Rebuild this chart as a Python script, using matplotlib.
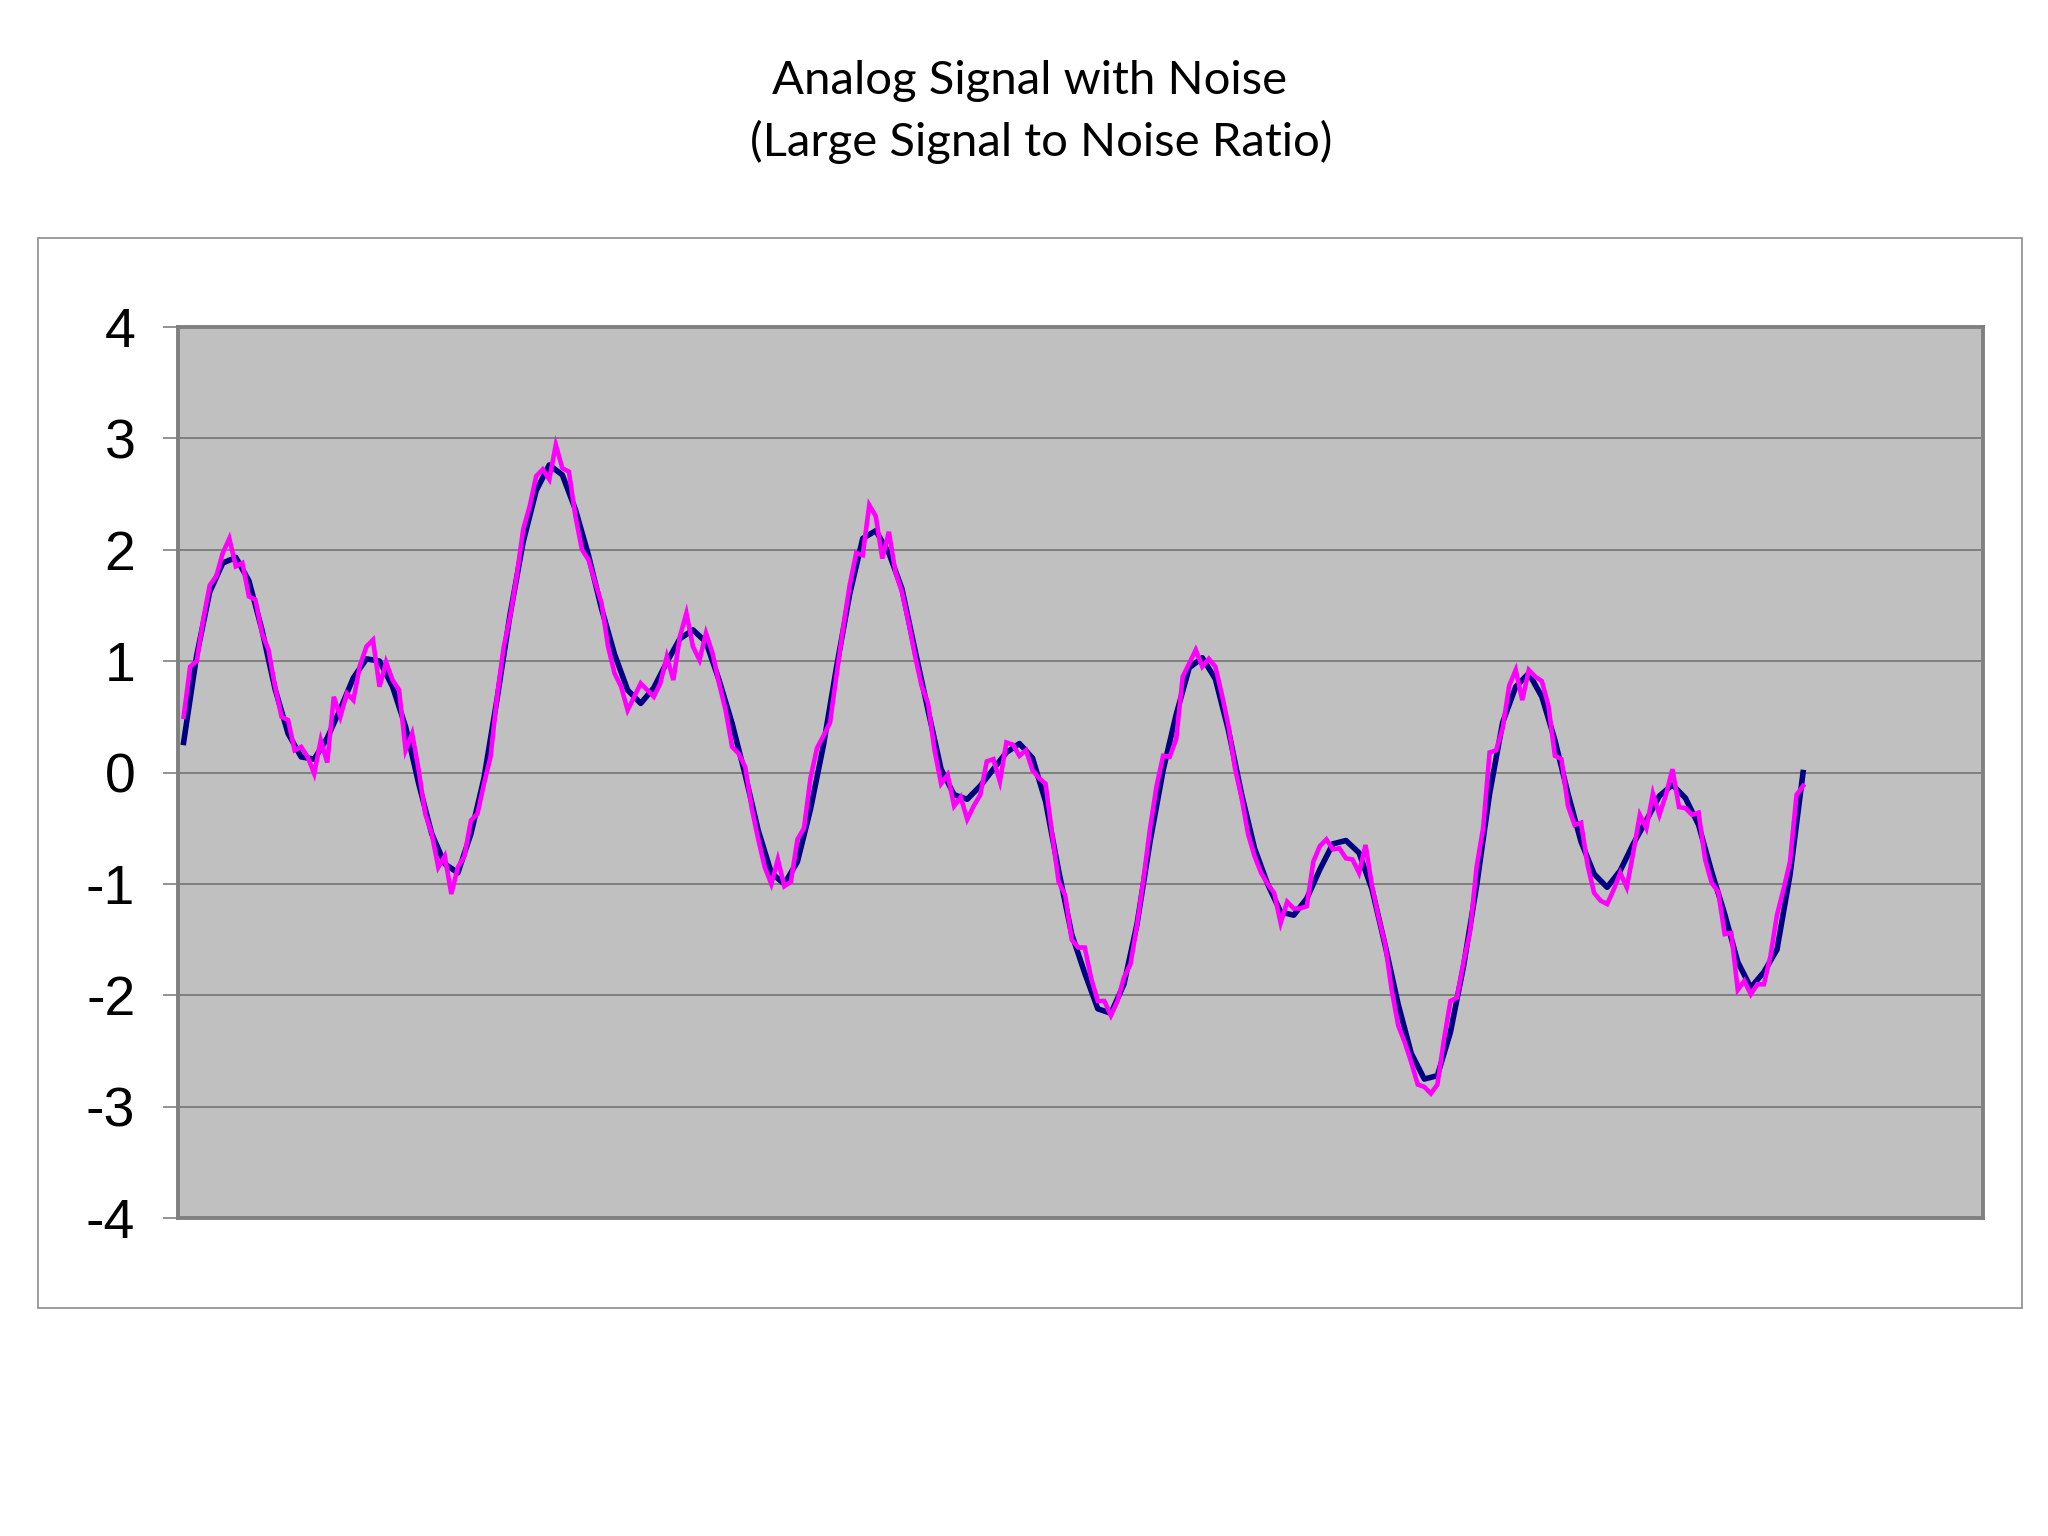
import numpy as np
import matplotlib
matplotlib.use("Agg")
import matplotlib.pyplot as plt
from matplotlib.patches import Rectangle

# --- данные ---
# чистый сигнал, шаг 10 px
signal = [
    0.27, 1.05, 1.62, 1.88, 1.93, 1.72, 1.28, 0.75, 0.35, 0.14,
    0.12, 0.31, 0.57, 0.85, 1.02, 1.00, 0.77, 0.41, -0.10, -0.55,
    -0.82, -0.90, -0.55, -0.05, 0.66, 1.42, 2.07, 2.53, 2.76, 2.67,
    2.36, 1.95, 1.47, 1.06, 0.74, 0.62, 0.76, 0.99, 1.20, 1.28,
    1.17, 0.83, 0.44, -0.02, -0.52, -0.90, -1.00, -0.80, -0.33, 0.25,
    0.95, 1.60, 2.10, 2.17, 1.97, 1.65, 1.10, 0.56, 0.03, -0.20,
    -0.24, -0.12, 0.03, 0.18, 0.26, 0.13, -0.26, -0.88, -1.45, -1.80,
    -2.12, -2.16, -1.90, -1.36, -0.62, 0.02, 0.52, 0.94, 1.03, 0.84,
    0.38, -0.19, -0.68, -1.00, -1.25, -1.28, -1.13, -0.87, -0.64, -0.61,
    -0.72, -1.05, -1.55, -2.08, -2.52, -2.75, -2.72, -2.33, -1.74, -1.02,
    -0.19, 0.45, 0.77, 0.89, 0.68, 0.29, -0.19, -0.62, -0.91, -1.03,
    -0.88, -0.64, -0.43, -0.21, -0.11, -0.23, -0.47, -0.89, -1.27, -1.70,
    -1.93, -1.79, -1.59, -0.92, 0.00,
]

# сигнал с шумом, шаг 5 px
noisy = [
    0.50, 0.95, 1.00, 1.37, 1.68, 1.76, 1.97, 2.10, 1.85, 1.88,
    1.58, 1.55, 1.25, 1.10, 0.77, 0.50, 0.47, 0.20, 0.23, 0.14,
    -0.01, 0.29, 0.09, 0.68, 0.50, 0.71, 0.65, 0.96, 1.13, 1.19,
    0.77, 0.99, 0.83, 0.74, 0.20, 0.35, 0.02, -0.37, -0.55, -0.85,
    -0.75, -1.09, -0.85, -0.75, -0.43, -0.37, -0.10, 0.14, 0.68, 1.12,
    1.40, 1.76, 2.18, 2.39, 2.66, 2.72, 2.63, 2.94, 2.73, 2.70,
    2.30, 2.00, 1.91, 1.71, 1.52, 1.13, 0.89, 0.77, 0.56, 0.68,
    0.80, 0.74, 0.68, 0.80, 1.04, 0.83, 1.22, 1.43, 1.13, 1.01,
    1.25, 1.07, 0.80, 0.56, 0.23, 0.17, 0.05, -0.32, -0.60, -0.85,
    -1.00, -0.78, -1.02, -0.98, -0.60, -0.50, -0.05, 0.22, 0.33, 0.45,
    0.88, 1.30, 1.68, 1.97, 1.95, 2.40, 2.30, 1.92, 2.16, 1.80,
    1.62, 1.35, 1.05, 0.78, 0.62, 0.20, -0.10, -0.02, -0.30, -0.22,
    -0.42, -0.30, -0.20, 0.10, 0.12, -0.08, 0.27, 0.25, 0.15, 0.20,
    0.02, -0.05, -0.10, -0.55, -0.98, -1.10, -1.50, -1.57, -1.57, -1.85,
    -2.05, -2.05, -2.18, -2.05, -1.84, -1.72, -1.37, -0.95, -0.50, -0.12,
    0.15, 0.14, 0.30, 0.86, 0.98, 1.10, 0.95, 1.02, 0.95, 0.70,
    0.42, 0.04, -0.22, -0.55, -0.75, -0.90, -1.00, -1.08, -1.35, -1.16,
    -1.22, -1.22, -1.20, -0.80, -0.66, -0.60, -0.69, -0.68, -0.77, -0.78,
    -0.90, -0.65, -1.02, -1.30, -1.54, -1.95, -2.27, -2.42, -2.60, -2.80,
    -2.82, -2.88, -2.80, -2.40, -2.05, -2.02, -1.70, -1.43, -0.85, -0.50,
    0.18, 0.20, 0.40, 0.78, 0.92, 0.65, 0.92, 0.86, 0.82, 0.60,
    0.15, 0.12, -0.30, -0.47, -0.45, -0.83, -1.08, -1.15, -1.18, -1.05,
    -0.90, -1.03, -0.72, -0.38, -0.50, -0.19, -0.38, -0.20, 0.03, -0.31,
    -0.32, -0.38, -0.36, -0.78, -0.99, -1.07, -1.45, -1.44, -1.95, -1.87,
    -1.99, -1.90, -1.90, -1.65, -1.28, -1.05, -0.80, -0.20, -0.12,
]

y_ticks = [4, 3, 2, 1, 0, -1, -2, -3, -4]
y_labels = ["4", "3", "2", "1", "0", "-1", "-2", "-3", "-4"]

title_line1 = "Analog Signal with Noise"
title_line2 = "(Large Signal to Noise Ratio)"

# --- график ---
fig = plt.figure(figsize=(20.48, 15.36), dpi=100)
fig.patch.set_facecolor("white")

# рамка области диаграммы
fig.patches.append(Rectangle((0.0185, 0.1486), 0.9687, 0.6966, transform=fig.transFigure,
                             fill=False, edgecolor="#8c8c8c", linewidth=1.2))

ax = fig.add_axes([0.0871, 0.2068, 0.8813, 0.5805])
ax.set_facecolor("#c0c0c0")

x_sig = np.arange(len(signal)) * 2
x_noisy = np.arange(len(noisy))
ax.plot(x_sig, signal, color="#000080", linewidth=4.0, solid_joinstyle="round", zorder=3)
ax.plot(x_noisy, noisy, color="#ff00ff", linewidth=3.3, solid_joinstyle="miter", zorder=4)

ax.set_xlim(-0.8, 275.6)
ax.set_ylim(-4, 4)
ax.set_yticks(y_ticks)
ax.set_yticklabels(y_labels, fontsize=40, family="Liberation Sans")
ax.set_xticks([])
ax.tick_params(axis="y", length=11, width=1.2, color="#808080", pad=20)
ax.grid(axis="y", color="#7a7a7a", linewidth=1.3)
ax.set_axisbelow(True)

for s in ax.spines.values():
    s.set_color("#808080")
    s.set_linewidth(2.8)

# заголовок в две строки
fig.text(0.5026, 0.9475, title_line1, ha="center", va="center", fontsize=34, family="Lato")
fig.text(0.5083, 0.9075, title_line2, ha="center", va="center", fontsize=34, family="Lato")

plt.savefig("out.png", dpi=100)
